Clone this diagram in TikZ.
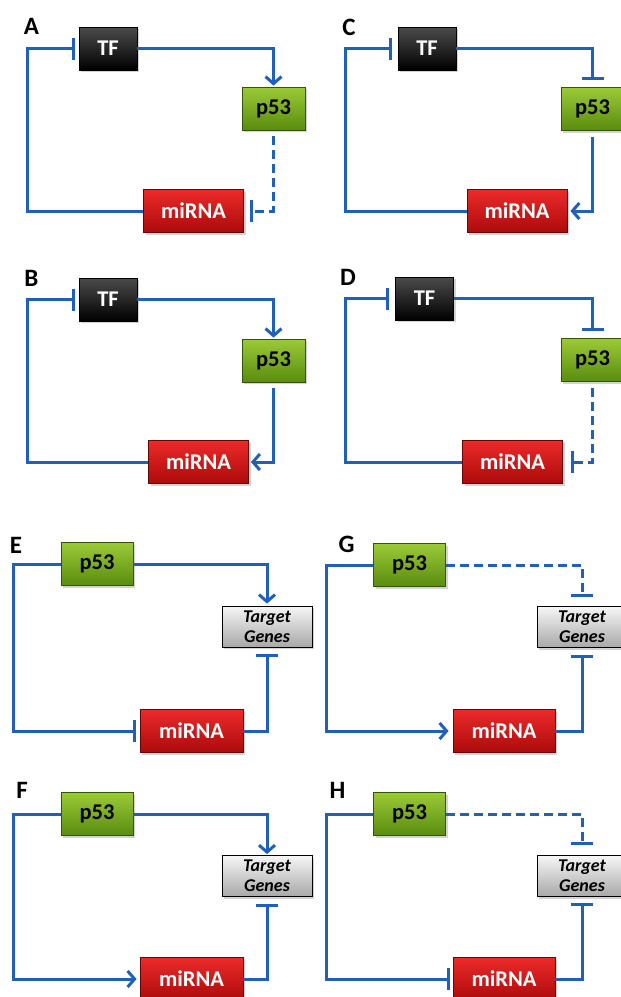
\documentclass[tikz,border=0pt]{standalone}
\usepackage{fontspec}
\setmainfont{Carlito}
\usetikzlibrary{arrows.meta,shadows}

\definecolor{lineblue}{RGB}{32,96,184}
\definecolor{tftop}{RGB}{75,75,75}
\definecolor{greentop}{RGB}{155,202,55}
\definecolor{greenbot}{RGB}{90,140,15}
\definecolor{redtop}{RGB}{236,42,42}
\definecolor{redbot}{RGB}{172,10,10}
\definecolor{greytop}{RGB}{246,246,246}
\definecolor{greybot}{RGB}{168,168,168}

\tikzstyle{box} = [rectangle, minimum height=43pt, inner sep=0pt, line width=0.8pt, font=\fontsize{22.5}{24}\selectfont\bfseries, drop shadow={shadow xshift=2pt, shadow yshift=-2pt, opacity=0.35}]
\tikzstyle{tf} = [box, minimum width=58pt, draw=black, top color=tftop, bottom color=black, text=white]
\tikzstyle{p53} = [box, minimum width=63pt, draw=greenbot!60!black, top color=greentop, bottom color=greenbot, text=black]
\tikzstyle{mir} = [box, minimum width=100pt, draw=redbot!60!black, top color=redtop, bottom color=redbot, text=white]
\tikzstyle{target} = [box, minimum width=90pt, minimum height=41pt, draw=black, top color=greytop, bottom color=greybot, text=black, align=center, font=\fontsize{18}{20}\selectfont\bfseries\itshape]
\tikzstyle{panel} = [inner sep=0pt, font=\fontsize{25}{27}\selectfont\bfseries]
\tikzstyle{arrow} = [line width=3pt, draw=lineblue, -{Straight Barb[length=7pt,width=16pt]}]
\tikzstyle{inhib} = [line width=3pt, draw=lineblue, -{Bar[width=22pt]}]
\tikzstyle{indirect} = [dash pattern=on 9pt off 5pt]

\begin{document}
\begin{tikzpicture}[x=1pt, y=-1pt]
\useasboundingbox (0,0) rectangle (621,997);
\clip (0,0) rectangle (621,997);

% A
\node (labA) [panel] at (31.5,26) {A};
\node (tfA) [tf] at (108,48.5) {TF};
\node (p53A) [p53] at (273.5,108.5) {p53};
\node (mirA) [mir] at (193.5,211) {miRNA};
\coordinate (leftA) at (27,130);
\draw [arrow, shorten >=1pt] (tfA.east) -| (p53A.north);
\draw [inhib, indirect, shorten <=6pt, shorten >=6pt] (p53A.south) |- (mirA.east);
\draw [inhib, shorten >=4pt] (mirA.west) -| (leftA) |- (tfA.west);

% B
\node (labB) [panel] at (31.5,278) {B};
\node (tfB) [tf] at (108,299.5) {TF};
\node (p53B) [p53] at (273.5,360.5) {p53};
\node (mirB) [mir] at (198.5,462) {miRNA};
\coordinate (leftB) at (27,380);
\draw [arrow, shorten >=1pt] (tfB.east) -| (p53B.north);
\draw [arrow, shorten <=6pt, shorten >=2pt] (p53B.south) |- (mirB.east);
\draw [inhib, shorten >=4pt] (mirB.west) -| (leftB) |- (tfB.west);

% C
\node (labC) [panel] at (349,27) {C};
\node (tfC) [tf] at (427,48.5) {TF};
\node (p53C) [p53] at (592.5,109) {p53};
\node (mirC) [mir] at (517,211) {miRNA};
\coordinate (leftC) at (345,130);
\draw [inhib, shorten >=7pt] (tfC.east) -| (p53C.north);
\draw [arrow, shorten <=6pt, shorten >=3pt] (p53C.south) |- (mirC.east);
\draw [inhib, shorten >=6pt] (mirC.west) -| (leftC) |- (tfC.west);

% D
\node (labD) [panel] at (348,277) {D};
\node (tfD) [tf] at (424.5,298.5) {TF};
\node (p53D) [p53] at (592.5,360) {p53};
\node (mirD) [mir] at (512.5,462) {miRNA};
\coordinate (leftD) at (345,380);
\draw [inhib, shorten >=7pt] (tfD.east) -| (p53D.north);
\draw [inhib, indirect, shorten <=6pt, shorten >=8pt] (p53D.south) |- (mirD.east);
\draw [inhib, shorten >=6pt] (mirD.west) -| (leftD) |- (tfD.west);

% E
\node (labE) [panel] at (16,545) {E};
\node (p53E) [p53, minimum width=72pt] at (97,564) {p53};
\node (tgE) [target] at (267,626.5) {Target\\Genes};
\node (mirE) [mir, minimum width=103pt] at (191.5,731) {miRNA};
\coordinate (leftE) at (13,650);
\draw [arrow, shorten >=2pt] (p53E.east) -| (tgE.north);
\draw [inhib, shorten >=7pt] (mirE.east) -| (tgE.south);
\draw [inhib, shorten >=4pt] (p53E.west) -| (leftE) |- (mirE.west);

% F
\node (labF) [panel] at (22,790) {F};
\node (p53F) [p53, minimum width=72pt] at (97,814) {p53};
\node (tgF) [target] at (267,876) {Target\\Genes};
\node (mirF) [mir, minimum width=103pt] at (191.5,979) {miRNA};
\coordinate (leftF) at (13,900);
\draw [arrow, shorten >=1pt] (p53F.east) -| (tgF.north);
\draw [inhib, shorten >=7pt] (mirF.east) -| (tgF.south);
\draw [arrow, shorten >=3pt] (p53F.west) -| (leftF) |- (mirF.west);

% G
\node (labG) [panel] at (346.5,544.5) {G};
\node (p53G) [p53, minimum width=72pt] at (409.5,565) {p53};
\node (tgG) [target] at (582,627) {Target\\Genes};
\node (mirG) [mir, minimum width=102pt] at (504,731) {miRNA};
\coordinate (leftG) at (326,650);
\draw [inhib, indirect, shorten >=9pt] (p53G.east) -| (tgG.north);
\draw [inhib, shorten >=7pt] (mirG.east) -| (tgG.south);
\draw [arrow, shorten >=4pt] (p53G.west) -| (leftG) |- (mirG.west);

% H
\node (labH) [panel] at (337.5,790) {H};
\node (p53H) [p53, minimum width=72pt] at (409.5,814) {p53};
\node (tgH) [target] at (582,876) {Target\\Genes};
\node (mirH) [mir, minimum width=102pt] at (504,979) {miRNA};
\coordinate (leftH) at (326,900);
\draw [inhib, indirect, shorten >=10pt] (p53H.east) -| (tgH.north);
\draw [inhib, shorten >=6pt] (mirH.east) -| (tgH.south);
\draw [inhib, shorten >=3pt] (p53H.west) -| (leftH) |- (mirH.west);

\end{tikzpicture}
\end{document}
